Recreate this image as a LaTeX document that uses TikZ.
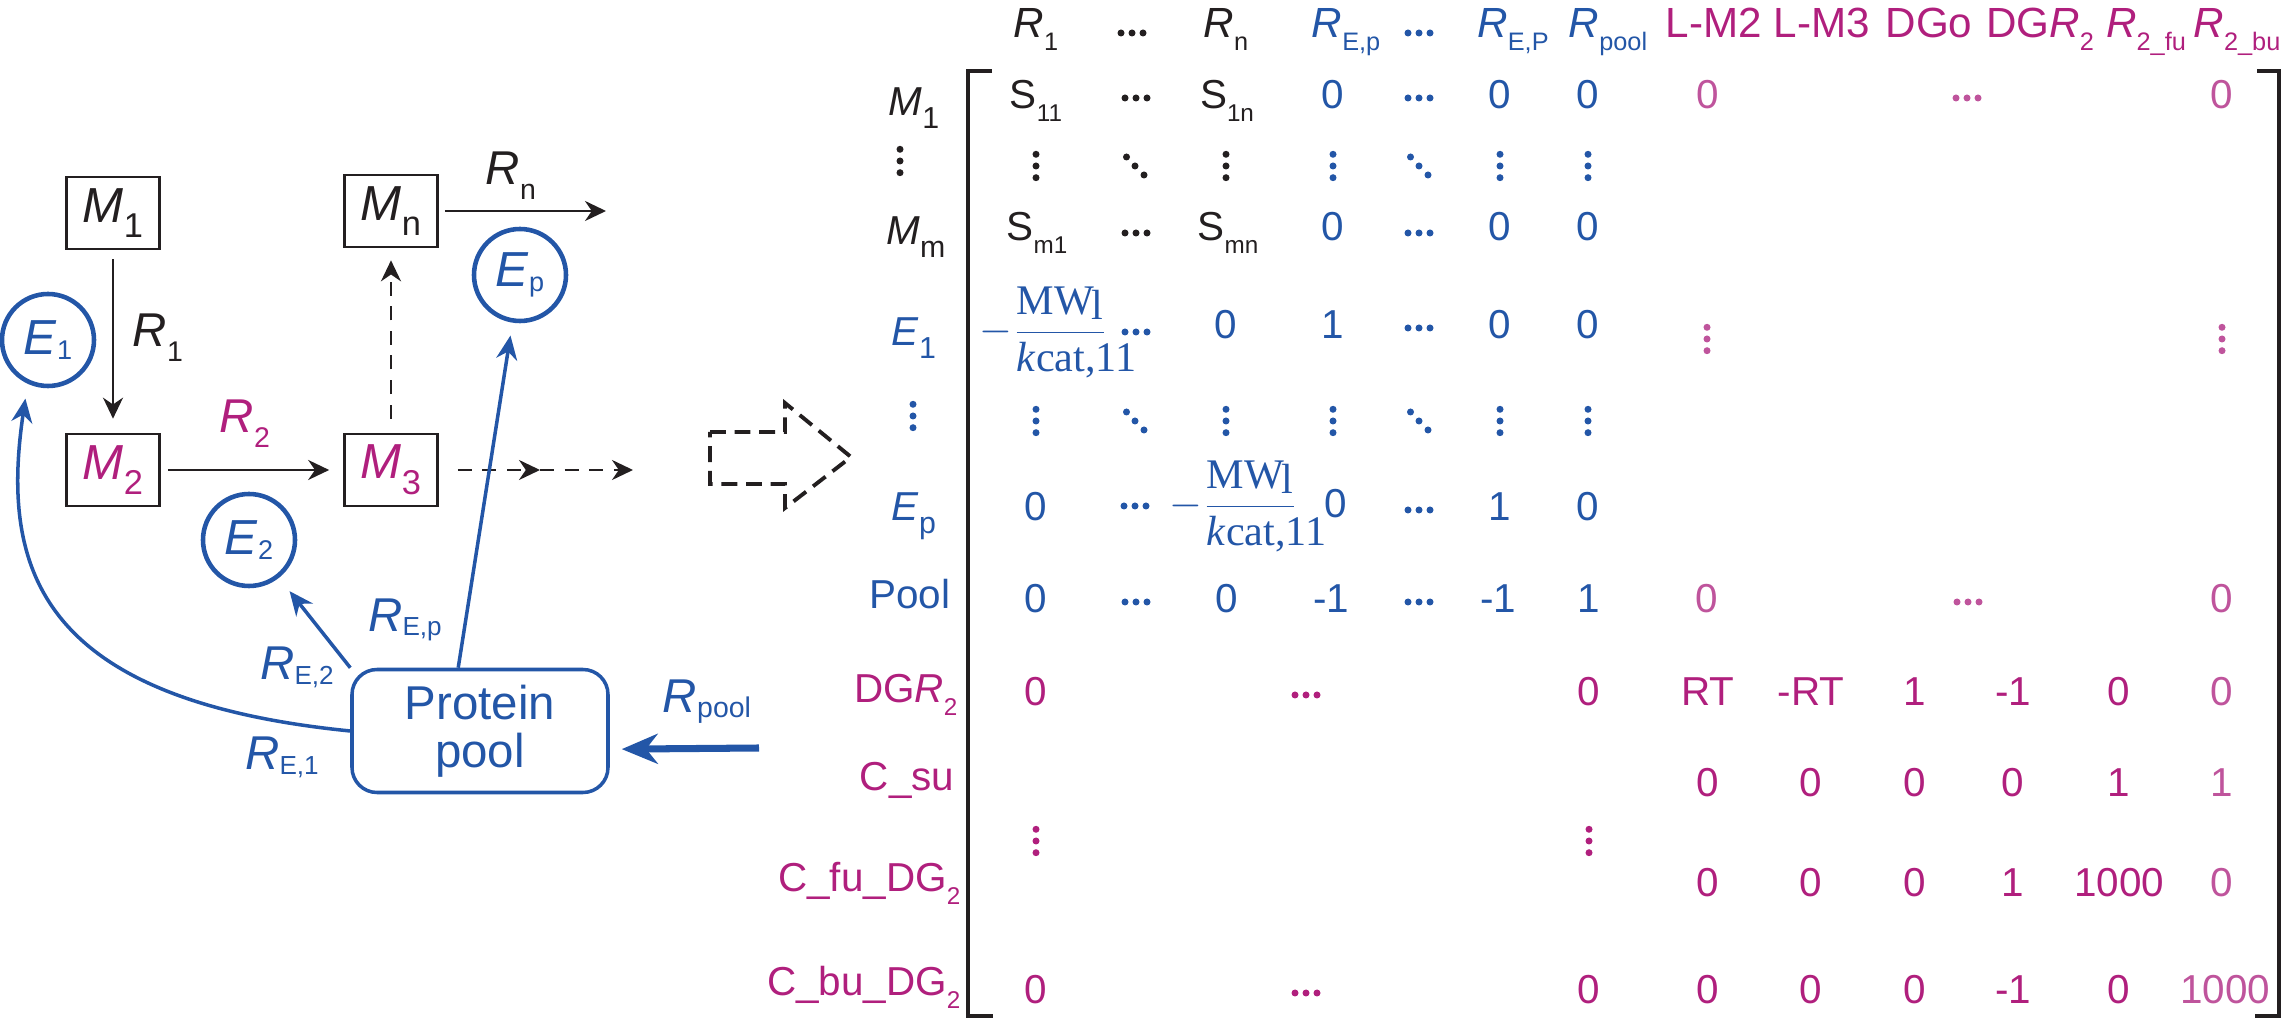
\documentclass[tikz,border=0pt]{standalone}
\usepackage{fontspec}
\setmainfont{Liberation Sans}
\newfontfamily\SerifFont{Liberation Serif}
\usepackage{amsmath}
\usetikzlibrary{arrows.meta,calc}
\definecolor{InkClr}{rgb}{0.137,0.122,0.125}
\definecolor{EnzClr}{rgb}{0.137,0.337,0.655}
\definecolor{MetClr}{rgb}{0.69,0.12,0.49}
\definecolor{SoftClr}{rgb}{0.75,0.33,0.61}
\newcommand\Idx[2][0.6]{\raisebox{-0.32em}{\scalebox{#1}{#2}}}
\newcommand\idx[2][0.6]{\raisebox{-0.1em}{\scalebox{#1}{#2}}}
\newcommand\mwfrac{$-\dfrac{\text{MW\kern-0.05em\raisebox{-0.12em}{l}}}{\rlap{\textit{k}cat,11}\phantom{\text{MW\kern-0.05em l}}}$}

\begin{document}
\begin{tikzpicture}[x=1cm,y=-1cm,
  metbox/.style={draw=InkClr,line width=0.75pt,minimum width=0.93cm,minimum height=0.72cm,inner sep=0pt,text=InkClr,font=\fontsize{14}{16}\selectfont},
  enzyme/.style={circle,draw=EnzClr,line width=1.3pt,minimum size=0.92cm,inner sep=0pt,text=EnzClr,font=\fontsize{14}{16}\selectfont},
  flux/.style={draw=InkClr,line width=0.75pt,-{Stealth[length=0.21cm,width=0.2cm]}},
  dashflux/.style={flux,dash pattern=on 4pt off 3pt},
  supply/.style={draw=EnzClr,line width=1pt,-{Stealth[length=0.24cm,width=0.21cm]}},
  lbl/.style={inner sep=0pt,text=InkClr,font=\fontsize{13.5}{15}\selectfont},
  head/.style={anchor=base,inner sep=0pt,font=\fontsize{12}{14}\selectfont},
  entry/.style={anchor=base,inner sep=0pt,font=\fontsize{11.5}{13}\selectfont},
  rowname/.style={anchor=base,inner sep=0pt,font=\fontsize{11.5}{13}\selectfont},
  frac/.style={anchor=base west,inner sep=0pt,text=EnzClr,font=\SerifFont\fontsize{12}{14}\selectfont},
  hdots/.pic={\fill (-0.11,0) circle (0.035) (0,0) circle (0.035) (0.11,0) circle (0.035);},
  vdots/.pic={\fill (0,-0.117) circle (0.035) (0,0) circle (0.035) (0,0.117) circle (0.035);},
  ddots/.pic={\fill (-0.085,-0.09) circle (0.035) (0,0) circle (0.035) (0.09,0.09) circle (0.035);}]

\useasboundingbox (0,0) rectangle (22.83,10.20);

\node[metbox] (M1) at (1.13,2.13) {\textit{M}\Idx[0.7]{1}};
\node[metbox] (Mn) at (3.91,2.11) {\textit{M}\Idx[0.7]{n}};
\node[metbox,text=MetClr] (M2) at (1.13,4.70) {\textit{M}\Idx[0.7]{2}};
\node[metbox,text=MetClr] (M3) at (3.91,4.70) {\textit{M}\Idx[0.7]{3}};

\node[enzyme] (E1) at (0.48,3.40) {\textit{E}\idx[0.55]{1}};
\node[enzyme] (Ep) at (5.20,2.75) {\textit{E}\idx[0.55]{p}};
\node[enzyme] (E2) at (2.49,5.40) {\textit{E}\idx[0.55]{2}};
\node[draw=EnzClr,line width=1pt,rounded corners=0.25cm,minimum width=2.56cm,minimum height=1.23cm,align=center,text=EnzClr,font=\fontsize{13.5}{13.7}\selectfont] (pool) at (4.80,7.31) {Protein\\pool};

\coordinate (Mout) at (6.06,2.11);
\coordinate (M3a) at (5.40,4.70);
\coordinate (M3b) at (6.33,4.70);
\coordinate (Rin) at (7.59,7.48);

\draw[flux,shorten <=0.09cm,shorten >=0.14cm] (M1) -- (M2);
\draw[flux,shorten <=0.07cm,shorten >=0.14cm] (M2) -- (M3);
\draw[flux,shorten <=0.06cm] (Mn) -- (Mout);
\draw[dashflux,shorten <=0.14cm,shorten >=0.12cm] (M3) -- (Mn);
\draw[dashflux,shorten <=0.19cm] (M3) -- (M3a);
\draw[dashflux] (M3a) -- (M3b);

\draw[supply,shorten >=0.15cm] (pool.west) .. controls (0.40,7.00) and (0,5.70) .. (E1.245);
\draw[supply,shorten >=0.17cm] (pool.154) -- (E2);
\draw[supply,shorten >=0.13cm] (pool.109) -- (Ep);
\draw[draw=EnzClr,line width=2pt,-{Stealth[length=0.36cm,width=0.3cm]},shorten >=0.12cm] (Rin) -- (pool.-8);

\node[lbl] (R1) at (1.58,3.38) {\textit{R}\Idx{1}};
\node[lbl,text=MetClr] (R2) at (2.45,4.24) {\textit{R}\Idx{2}};
\node[lbl] (Rn) at (5.11,1.76) {\textit{R}\Idx{n}};
\node[lbl,text=EnzClr] (RE1) at (2.82,7.57) {\textit{R}\idx[0.55]{E,1}};
\node[lbl,text=EnzClr] (RE2) at (2.97,6.67) {\textit{R}\idx[0.55]{E,2}};
\node[lbl,text=EnzClr] (REp) at (4.05,6.20) {\textit{R}\idx[0.55]{E,p}};
\node[lbl,text=EnzClr] (Rpool) at (7.07,7.02) {\textit{R}\idx{pool}};

\draw[InkClr,line width=1.1pt,dash pattern=on 4.5pt off 2.5pt] (7.10,4.32) -- (7.85,4.32) -- (7.85,4.03) -- (8.51,4.57) -- (7.85,5.08) -- (7.85,4.84) -- (7.10,4.84) -- cycle;

\node[head,text=InkClr] (hR1) at (10.36,0.375) {\textit{R}\Idx{1}};
\pic[InkClr] at (11.32,0.33) {hdots};
\node[head,text=InkClr] (hRn) at (12.26,0.375) {\textit{R}\Idx{n}};
\node[head,text=EnzClr] (hREp) at (13.46,0.375) {\textit{R}\Idx{E,p}};
\pic[EnzClr] at (14.19,0.33) {hdots};
\node[head,text=EnzClr] (hREP) at (15.13,0.375) {\textit{R}\Idx{E,P}};
\node[head,text=EnzClr] (hRpool) at (16.08,0.375) {\textit{R}\Idx{pool}};
\node[head,text=MetClr] (hLM2) at (17.14,0.375) {L-M2};
\node[head,text=MetClr] (hLM3) at (18.22,0.375) {L-M3};
\node[head,text=MetClr] (hDGo) at (19.29,0.375) {DGo};
\node[head,text=MetClr] (hDGR) at (20.40,0.375) {DG\textit{R}\Idx{2}};
\node[head,text=MetClr] (hRfu) at (21.46,0.375) {\textit{R}\Idx{2\_fu}};
\node[head,text=MetClr] (hRbu) at (22.37,0.375) {\textit{R}\Idx{2\_bu}};

\draw[InkClr,line width=1.1pt] (9.92,0.71) -| (9.68,10.16) -- (9.93,10.16);
\draw[InkClr,line width=1.1pt] (22.57,0.71) -| (22.79,10.16) -- (22.55,10.16);

\node[rowname,text=InkClr] (lM1) at (9.14,1.16) {\textit{M}\Idx[0.75]{1}};
\pic[InkClr] at (9.00,1.61) {vdots};
\node[rowname,text=InkClr] (lMm) at (9.16,2.45) {\textit{M}\Idx[0.75]{m}};
\node[rowname,text=EnzClr] (lE1) at (9.14,3.46) {\textit{E}\Idx[0.75]{1}};
\pic[EnzClr] at (9.13,4.16) {vdots};
\node[rowname,text=EnzClr] (lEp) at (9.14,5.21) {\textit{E}\Idx[0.75]{p}};
\node[rowname,text=EnzClr] (lPool) at (9.10,6.09) {Pool};
\node[rowname,text=MetClr,anchor=base east] (lDGR) at (9.58,7.03) {DG\textit{R}\Idx{2}};
\node[rowname,text=MetClr,anchor=base east] (lCsu) at (9.55,7.91) {C\_su};
\node[rowname,text=MetClr,anchor=base east] (lCfu) at (9.61,8.92) {C\_fu\_DG\Idx{2}};
\node[rowname,text=MetClr,anchor=base east] (lCbu) at (9.61,9.96) {C\_bu\_DG\Idx{2}};

\node[entry,text=InkClr] (e1-1) at (10.36,1.09) {S\Idx{11}};
\pic[InkClr] at (11.36,0.98) {hdots};
\node[entry,text=InkClr] (e1-3) at (12.27,1.09) {S\Idx{1n}};
\node[entry,text=EnzClr] (e1-4) at (13.33,1.09) {0};
\pic[EnzClr] at (14.19,0.98) {hdots};
\node[entry,text=EnzClr] (e1-6) at (15.00,1.09) {0};
\node[entry,text=EnzClr] (e1-7) at (15.88,1.09) {0};
\node[entry,text=SoftClr] (e1-8) at (17.08,1.09) {0};
\pic[SoftClr] at (19.67,0.98) {hdots};
\node[entry,text=SoftClr] (e1-13) at (22.22,1.09) {0};

\pic[InkClr] at (10.36,1.66) {vdots};
\pic[InkClr] at (11.35,1.66) {ddots};
\pic[InkClr] at (12.26,1.66) {vdots};
\pic[EnzClr] at (13.33,1.66) {vdots};
\pic[EnzClr] at (14.19,1.66) {ddots};
\pic[EnzClr] at (15.00,1.66) {vdots};
\pic[EnzClr] at (15.88,1.66) {vdots};

\node[entry,text=InkClr] (e3-1) at (10.37,2.41) {S\Idx{m1}};
\pic[InkClr] at (11.36,2.33) {hdots};
\node[entry,text=InkClr] (e3-3) at (12.28,2.41) {S\Idx{mn}};
\node[entry,text=EnzClr] (e3-4) at (13.33,2.41) {0};
\pic[EnzClr] at (14.19,2.33) {hdots};
\node[entry,text=EnzClr] (e3-6) at (15.00,2.41) {0};
\node[entry,text=EnzClr] (e3-7) at (15.88,2.41) {0};

\node[frac] (e4-1) at (9.79,3.43) {\mwfrac};
\pic[EnzClr] at (11.36,3.32) {hdots};
\node[entry,text=EnzClr] (e4-3) at (12.26,3.39) {0};
\node[entry,text=EnzClr] (e4-4) at (13.33,3.39) {1};
\pic[EnzClr] at (14.19,3.28) {hdots};
\node[entry,text=EnzClr] (e4-6) at (15.00,3.39) {0};
\node[entry,text=EnzClr] (e4-7) at (15.88,3.39) {0};
\pic[SoftClr] at (17.07,3.39) {vdots};
\pic[SoftClr] at (22.22,3.39) {vdots};

\pic[EnzClr] at (10.36,4.21) {vdots};
\pic[EnzClr] at (11.35,4.21) {ddots};
\pic[EnzClr] at (12.26,4.21) {vdots};
\pic[EnzClr] at (13.33,4.21) {vdots};
\pic[EnzClr] at (14.19,4.21) {ddots};
\pic[EnzClr] at (15.00,4.21) {vdots};
\pic[EnzClr] at (15.88,4.21) {vdots};

\node[entry,text=EnzClr] (e6-1) at (10.36,5.21) {0};
\pic[EnzClr] at (11.35,5.06) {hdots};
\node[frac] (e6-3) at (11.69,5.17) {\mwfrac};
\node[entry,text=EnzClr] (e6-4) at (13.36,5.18) {0};
\pic[EnzClr] at (14.19,5.10) {hdots};
\node[entry,text=EnzClr] (e6-6) at (15.00,5.21) {1};
\node[entry,text=EnzClr] (e6-7) at (15.88,5.21) {0};

\node[entry,text=EnzClr] (e7-1) at (10.36,6.13) {0};
\pic[EnzClr] at (11.36,6.02) {hdots};
\node[entry,text=EnzClr] (e7-3) at (12.27,6.13) {0};
\node[entry,text=EnzClr] (e7-4) at (13.31,6.13) {-1};
\pic[EnzClr] at (14.19,6.02) {hdots};
\node[entry,text=EnzClr] (e7-6) at (14.98,6.13) {-1};
\node[entry,text=EnzClr] (e7-7) at (15.89,6.13) {1};
\node[entry,text=SoftClr] (e7-8) at (17.07,6.13) {0};
\pic[SoftClr] at (19.68,6.02) {hdots};
\node[entry,text=SoftClr] (e7-13) at (22.22,6.13) {0};

\node[entry,text=MetClr] (e8-1) at (10.36,7.06) {0};
\pic[MetClr] at (13.06,6.95) {hdots};
\foreach \x/\t [count=\k from 7] in {15.89/0,17.08/RT,18.11/-RT,19.15/1,20.13/-1,21.19/0}
  \node[entry,text=MetClr] (e8-\k) at (\x,7.06) {\t};
\node[entry,text=SoftClr] (e8-13) at (22.22,7.06) {0};

\foreach \x/\t [count=\k from 8] in {17.08/0,18.11/0,19.15/0,20.13/0,21.19/1}
  \node[entry,text=MetClr] (e9-\k) at (\x,7.97) {\t};
\node[entry,text=SoftClr] (e9-13) at (22.22,7.97) {1};

\pic[MetClr] at (10.36,8.41) {vdots};
\pic[MetClr] at (15.89,8.41) {vdots};

\foreach \x/\t [count=\k from 8] in {17.08/0,18.11/0,19.15/0,20.13/1,21.19/1000}
  \node[entry,text=MetClr] (e11-\k) at (\x,8.97) {\t};
\node[entry,text=SoftClr] (e11-13) at (22.22,8.97) {0};

\node[entry,text=MetClr] (e12-1) at (10.36,10.04) {0};
\pic[MetClr] at (13.06,9.93) {hdots};
\foreach \x/\t [count=\k from 7] in {15.89/0,17.08/0,18.11/0,19.15/0,20.13/-1,21.19/0}
  \node[entry,text=MetClr] (e12-\k) at (\x,10.04) {\t};
\node[entry,text=SoftClr] (e12-13) at (22.25,10.04) {1000};

\end{tikzpicture}
\end{document}
